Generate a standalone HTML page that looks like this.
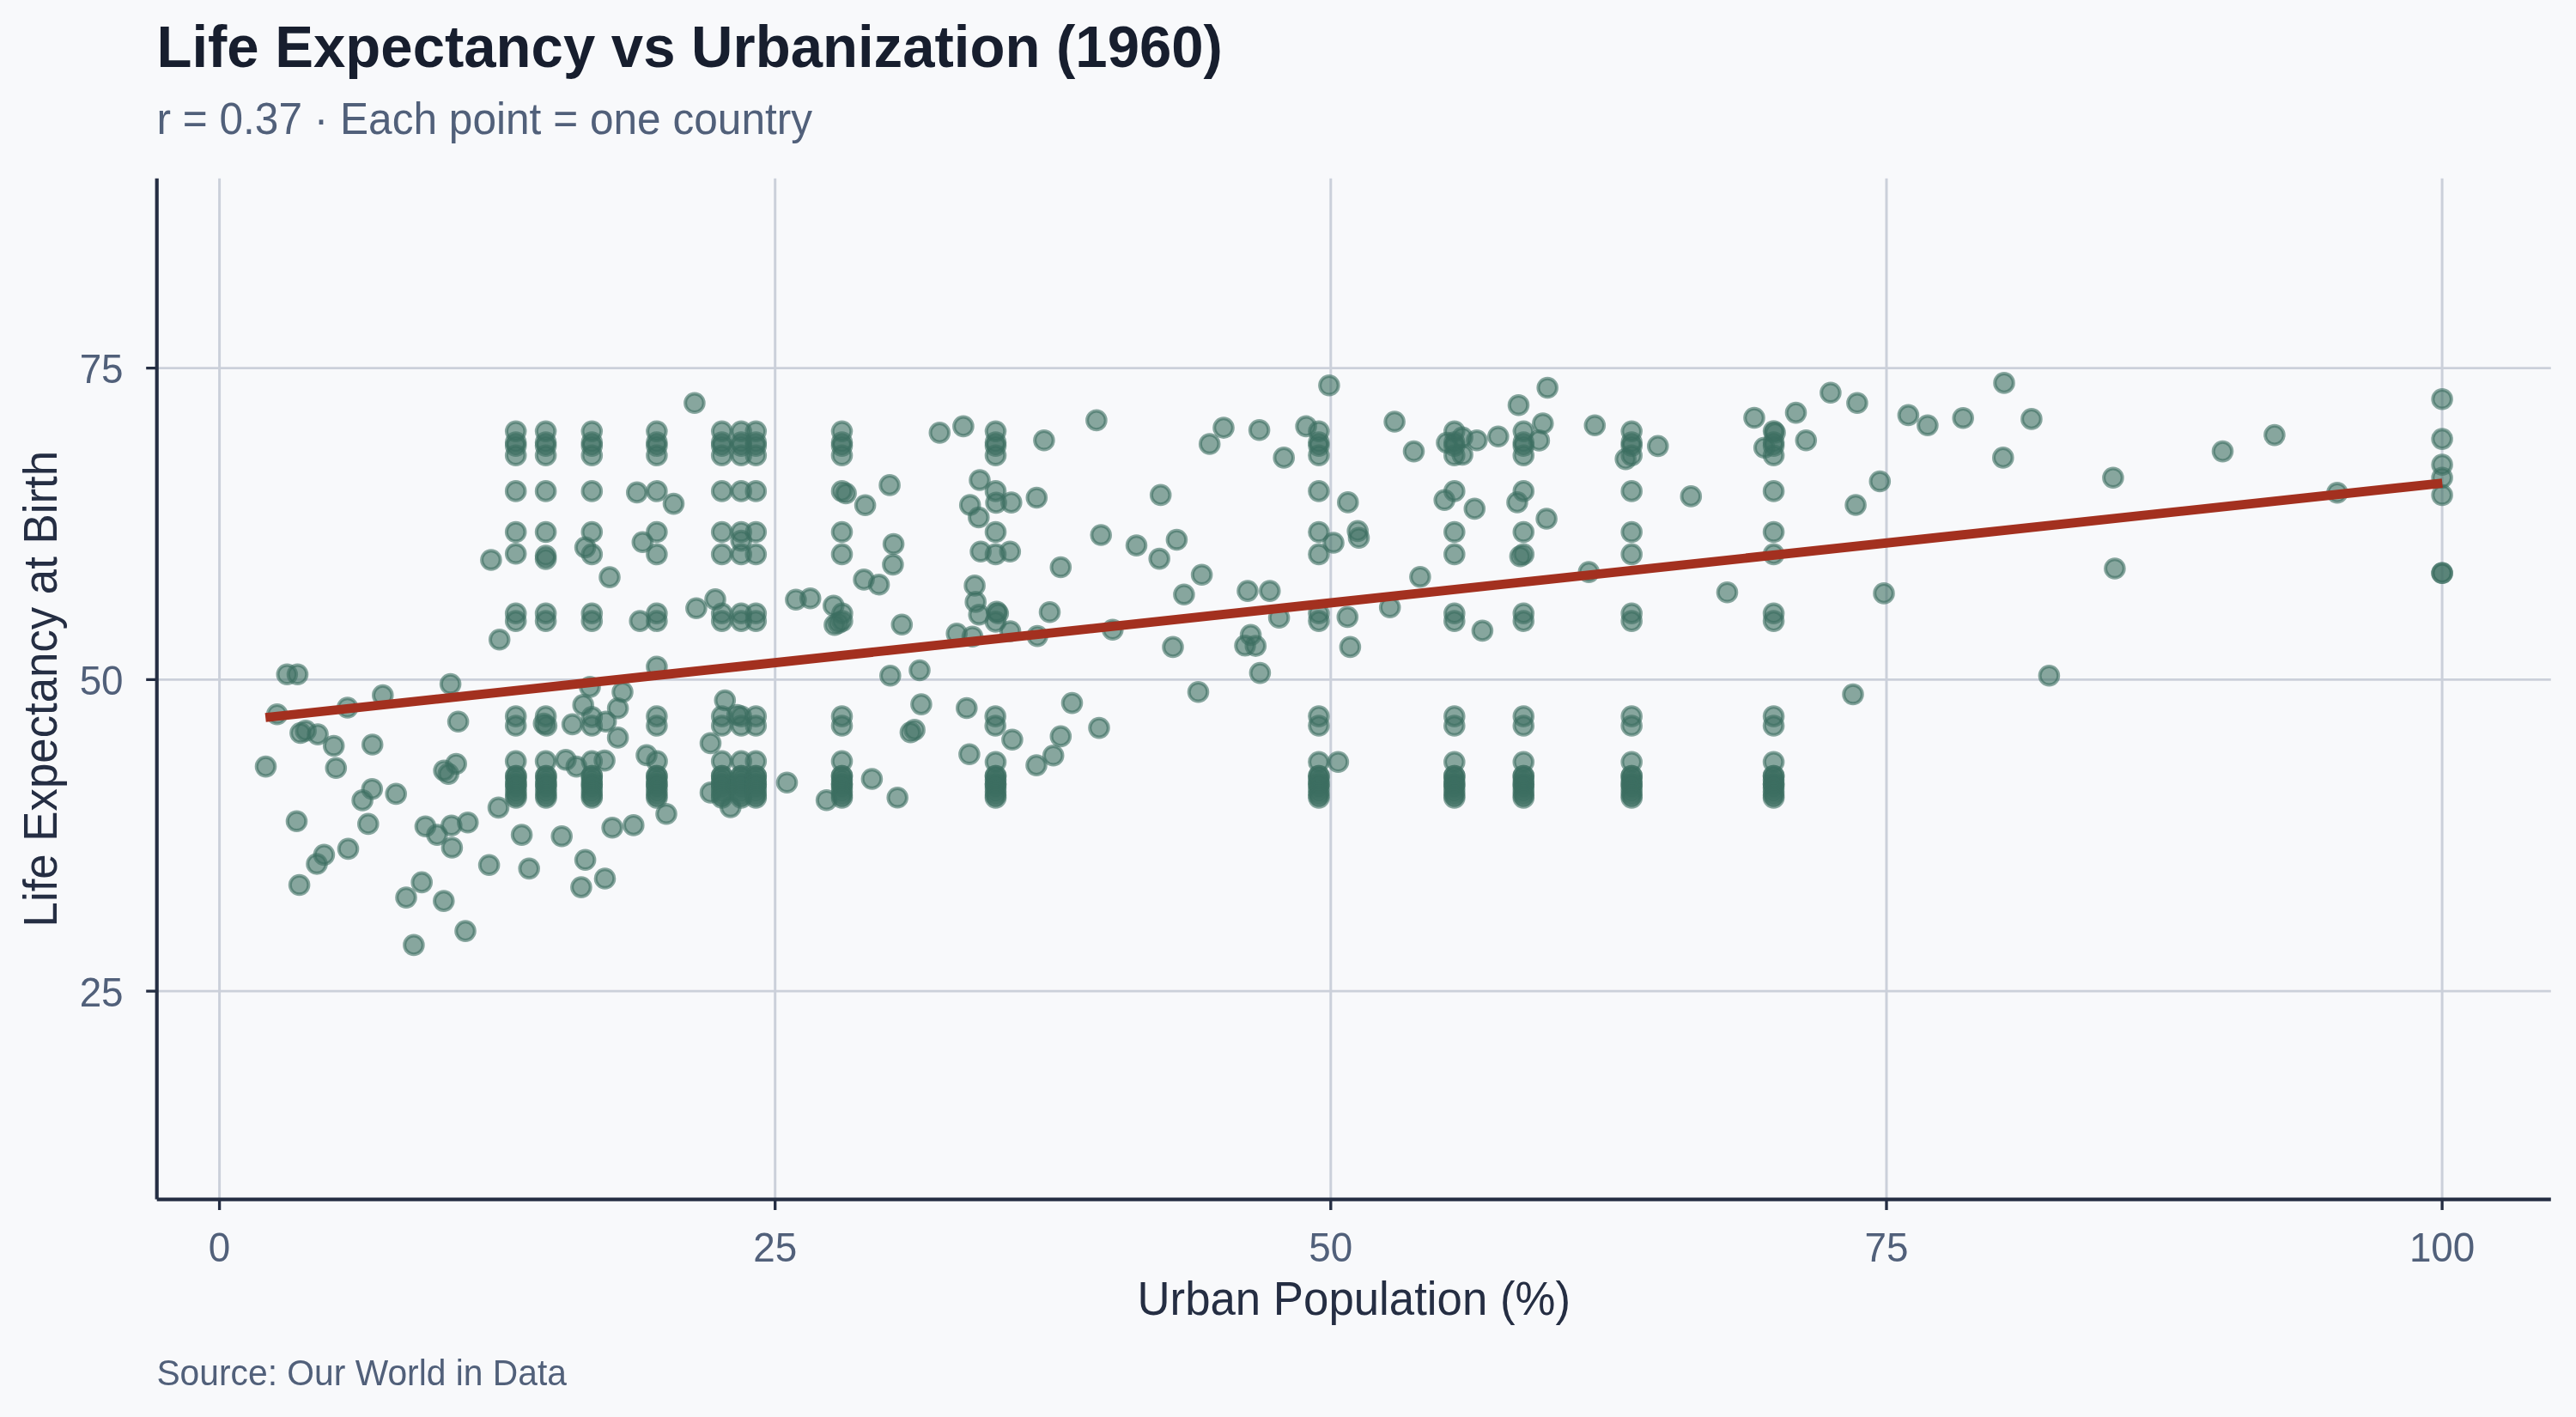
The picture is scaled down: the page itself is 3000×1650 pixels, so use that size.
<!DOCTYPE html>
<html><head><meta charset="utf-8"><title>Life Expectancy vs Urbanization (1960)</title>
<style>html,body{margin:0;padding:0;background:#f8f9fb;}svg{display:block;will-change:transform;}</style>
</head><body>
<svg width="3000" height="1650" viewBox="0 0 3000 1650"><rect width="3000" height="1650" fill="#f8f9fb"/><path d="M255.6 207.8V1396.6M902.7 207.8V1396.6M1549.8 207.8V1396.6M2197.0 207.8V1396.6M2844.1 207.8V1396.6" stroke="#cbd0da" stroke-width="3" fill="none"/><path d="M182.7 1154.1H2970.8M182.7 791.4H2970.8M182.7 428.6H2970.8" stroke="#cbd0da" stroke-width="2.6" fill="none"/><g fill="#3c6e60" fill-opacity="0.6" stroke="#3c6e60" stroke-opacity="0.6" stroke-width="4.0"><circle cx="600.7" cy="502.3" r="10.8"/><circle cx="600.7" cy="515.0" r="10.8"/><circle cx="600.7" cy="519.1" r="10.8"/><circle cx="600.7" cy="530.2" r="10.8"/><circle cx="600.7" cy="571.9" r="10.8"/><circle cx="600.7" cy="619.5" r="10.8"/><circle cx="635.6" cy="502.3" r="10.8"/><circle cx="635.6" cy="515.0" r="10.8"/><circle cx="635.6" cy="519.1" r="10.8"/><circle cx="635.6" cy="530.2" r="10.8"/><circle cx="635.6" cy="571.9" r="10.8"/><circle cx="635.6" cy="619.5" r="10.8"/><circle cx="681.6" cy="637.4" r="10.8"/><circle cx="689.3" cy="502.3" r="10.8"/><circle cx="689.3" cy="515.0" r="10.8"/><circle cx="689.3" cy="519.1" r="10.8"/><circle cx="689.3" cy="530.2" r="10.8"/><circle cx="689.3" cy="571.9" r="10.8"/><circle cx="689.3" cy="619.5" r="10.8"/><circle cx="764.9" cy="502.3" r="10.8"/><circle cx="764.9" cy="515.0" r="10.8"/><circle cx="764.9" cy="519.1" r="10.8"/><circle cx="764.9" cy="530.2" r="10.8"/><circle cx="764.9" cy="571.9" r="10.8"/><circle cx="764.9" cy="619.5" r="10.8"/><circle cx="741.8" cy="573.4" r="10.8"/><circle cx="784.5" cy="586.6" r="10.8"/><circle cx="748.3" cy="631.2" r="10.8"/><circle cx="808.9" cy="469.2" r="10.8"/><circle cx="840.7" cy="502.3" r="10.8"/><circle cx="840.7" cy="515.0" r="10.8"/><circle cx="840.7" cy="519.1" r="10.8"/><circle cx="840.7" cy="530.2" r="10.8"/><circle cx="840.7" cy="571.9" r="10.8"/><circle cx="840.7" cy="619.5" r="10.8"/><circle cx="863.2" cy="502.3" r="10.8"/><circle cx="863.2" cy="515.0" r="10.8"/><circle cx="863.2" cy="519.1" r="10.8"/><circle cx="863.2" cy="530.2" r="10.8"/><circle cx="863.2" cy="571.9" r="10.8"/><circle cx="863.2" cy="619.5" r="10.8"/><circle cx="863.2" cy="629.6" r="10.8"/><circle cx="880.3" cy="502.3" r="10.8"/><circle cx="880.3" cy="515.0" r="10.8"/><circle cx="880.3" cy="519.1" r="10.8"/><circle cx="880.3" cy="530.2" r="10.8"/><circle cx="880.3" cy="571.9" r="10.8"/><circle cx="880.3" cy="619.5" r="10.8"/><circle cx="980.5" cy="502.3" r="10.8"/><circle cx="980.5" cy="515.0" r="10.8"/><circle cx="980.5" cy="519.1" r="10.8"/><circle cx="980.5" cy="530.2" r="10.8"/><circle cx="980.5" cy="571.9" r="10.8"/><circle cx="980.5" cy="619.5" r="10.8"/><circle cx="985.1" cy="574.5" r="10.8"/><circle cx="1007.6" cy="588.2" r="10.8"/><circle cx="1036.1" cy="564.9" r="10.8"/><circle cx="1040.6" cy="633.5" r="10.8"/><circle cx="1094.3" cy="503.9" r="10.8"/><circle cx="1121.9" cy="496.4" r="10.8"/><circle cx="1159.5" cy="502.3" r="10.8"/><circle cx="1159.5" cy="515.0" r="10.8"/><circle cx="1159.5" cy="519.1" r="10.8"/><circle cx="1159.5" cy="530.2" r="10.8"/><circle cx="1215.9" cy="512.7" r="10.8"/><circle cx="1276.9" cy="489.4" r="10.8"/><circle cx="1425.0" cy="498.1" r="10.8"/><circle cx="1408.7" cy="517.0" r="10.8"/><circle cx="1466.6" cy="500.7" r="10.8"/><circle cx="1141.0" cy="559.0" r="10.8"/><circle cx="1159.5" cy="571.9" r="10.8"/><circle cx="1160.1" cy="585.4" r="10.8"/><circle cx="1129.7" cy="588.0" r="10.8"/><circle cx="1139.8" cy="602.5" r="10.8"/><circle cx="1177.8" cy="585.1" r="10.8"/><circle cx="1207.3" cy="579.5" r="10.8"/><circle cx="1351.7" cy="576.4" r="10.8"/><circle cx="1159.5" cy="619.5" r="10.8"/><circle cx="1282.2" cy="623.0" r="10.8"/><circle cx="1323.5" cy="635.1" r="10.8"/><circle cx="1370.4" cy="628.5" r="10.8"/><circle cx="1547.9" cy="448.7" r="10.8"/><circle cx="1521.1" cy="496.4" r="10.8"/><circle cx="1535.9" cy="502.3" r="10.8"/><circle cx="1535.9" cy="515.0" r="10.8"/><circle cx="1535.9" cy="519.1" r="10.8"/><circle cx="1535.9" cy="530.2" r="10.8"/><circle cx="1495.2" cy="532.9" r="10.8"/><circle cx="1624.1" cy="491.0" r="10.8"/><circle cx="1646.5" cy="525.6" r="10.8"/><circle cx="1693.8" cy="502.3" r="10.8"/><circle cx="1703.1" cy="509.3" r="10.8"/><circle cx="1685.0" cy="515.5" r="10.8"/><circle cx="1693.8" cy="515.0" r="10.8"/><circle cx="1693.8" cy="519.1" r="10.8"/><circle cx="1693.8" cy="530.2" r="10.8"/><circle cx="1703.1" cy="529.5" r="10.8"/><circle cx="1719.9" cy="512.7" r="10.8"/><circle cx="1744.8" cy="508.2" r="10.8"/><circle cx="1774.3" cy="502.3" r="10.8"/><circle cx="1774.3" cy="515.0" r="10.8"/><circle cx="1774.3" cy="519.1" r="10.8"/><circle cx="1774.3" cy="530.2" r="10.8"/><circle cx="1796.8" cy="493.0" r="10.8"/><circle cx="1792.4" cy="512.9" r="10.8"/><circle cx="1768.5" cy="471.7" r="10.8"/><circle cx="1802.2" cy="451.5" r="10.8"/><circle cx="1857.3" cy="495.3" r="10.8"/><circle cx="1535.9" cy="571.9" r="10.8"/><circle cx="1569.8" cy="584.9" r="10.8"/><circle cx="1693.8" cy="571.9" r="10.8"/><circle cx="1682.2" cy="582.3" r="10.8"/><circle cx="1717.3" cy="592.4" r="10.8"/><circle cx="1774.3" cy="571.9" r="10.8"/><circle cx="1767.0" cy="584.9" r="10.8"/><circle cx="1801.1" cy="604.0" r="10.8"/><circle cx="1535.9" cy="619.5" r="10.8"/><circle cx="1553.0" cy="632.0" r="10.8"/><circle cx="1581.2" cy="618.4" r="10.8"/><circle cx="1582.5" cy="626.2" r="10.8"/><circle cx="1693.8" cy="619.5" r="10.8"/><circle cx="1774.3" cy="619.5" r="10.8"/><circle cx="1900.2" cy="502.3" r="10.8"/><circle cx="1900.2" cy="515.0" r="10.8"/><circle cx="1900.2" cy="519.1" r="10.8"/><circle cx="1900.2" cy="530.2" r="10.8"/><circle cx="1893.2" cy="534.6" r="10.8"/><circle cx="1930.8" cy="519.4" r="10.8"/><circle cx="2043.0" cy="486.5" r="10.8"/><circle cx="2065.6" cy="502.0" r="10.8"/><circle cx="2067.1" cy="503.9" r="10.8"/><circle cx="2065.6" cy="515.0" r="10.8"/><circle cx="2065.6" cy="519.1" r="10.8"/><circle cx="2065.6" cy="530.2" r="10.8"/><circle cx="2054.7" cy="521.2" r="10.8"/><circle cx="2091.5" cy="480.6" r="10.8"/><circle cx="2131.9" cy="457.3" r="10.8"/><circle cx="2162.9" cy="469.2" r="10.8"/><circle cx="2103.3" cy="512.7" r="10.8"/><circle cx="2222.4" cy="483.4" r="10.8"/><circle cx="2244.9" cy="495.3" r="10.8"/><circle cx="1900.2" cy="571.9" r="10.8"/><circle cx="1969.3" cy="577.9" r="10.8"/><circle cx="2065.6" cy="571.9" r="10.8"/><circle cx="2189.3" cy="560.5" r="10.8"/><circle cx="2161.1" cy="588.0" r="10.8"/><circle cx="1900.2" cy="619.5" r="10.8"/><circle cx="2065.6" cy="619.5" r="10.8"/><circle cx="2286.2" cy="486.8" r="10.8"/><circle cx="2334.0" cy="445.9" r="10.8"/><circle cx="2365.9" cy="487.9" r="10.8"/><circle cx="2332.8" cy="532.9" r="10.8"/><circle cx="2460.9" cy="556.2" r="10.8"/><circle cx="2588.5" cy="525.6" r="10.8"/><circle cx="2648.9" cy="506.6" r="10.8"/><circle cx="2721.9" cy="573.7" r="10.8"/><circle cx="2844.1" cy="464.7" r="10.8"/><circle cx="2844.1" cy="511.1" r="10.8"/><circle cx="2844.1" cy="541.1" r="10.8"/><circle cx="2844.1" cy="556.3" r="10.8"/><circle cx="2844.1" cy="576.5" r="10.8"/><circle cx="571.9" cy="652.0" r="10.8"/><circle cx="600.7" cy="644.7" r="10.8"/><circle cx="635.6" cy="647.0" r="10.8"/><circle cx="635.6" cy="650.9" r="10.8"/><circle cx="600.7" cy="714.2" r="10.8"/><circle cx="600.7" cy="723.1" r="10.8"/><circle cx="635.6" cy="714.2" r="10.8"/><circle cx="635.6" cy="723.1" r="10.8"/><circle cx="581.7" cy="744.8" r="10.8"/><circle cx="334.3" cy="785.2" r="10.8"/><circle cx="346.5" cy="785.2" r="10.8"/><circle cx="524.6" cy="796.5" r="10.8"/><circle cx="445.8" cy="809.6" r="10.8"/><circle cx="404.7" cy="824.0" r="10.8"/><circle cx="322.7" cy="831.8" r="10.8"/><circle cx="533.6" cy="840.3" r="10.8"/><circle cx="600.7" cy="834.1" r="10.8"/><circle cx="600.7" cy="845.0" r="10.8"/><circle cx="635.6" cy="834.1" r="10.8"/><circle cx="633.3" cy="842.6" r="10.8"/><circle cx="636.4" cy="845.0" r="10.8"/><circle cx="666.6" cy="843.4" r="10.8"/><circle cx="349.9" cy="853.5" r="10.8"/><circle cx="356.1" cy="850.9" r="10.8"/><circle cx="370.1" cy="855.1" r="10.8"/><circle cx="689.3" cy="645.4" r="10.8"/><circle cx="764.9" cy="645.4" r="10.8"/><circle cx="840.7" cy="645.4" r="10.8"/><circle cx="863.2" cy="645.4" r="10.8"/><circle cx="880.3" cy="645.4" r="10.8"/><circle cx="980.5" cy="645.4" r="10.8"/><circle cx="1039.9" cy="657.4" r="10.8"/><circle cx="710.0" cy="672.1" r="10.8"/><circle cx="1006.1" cy="674.9" r="10.8"/><circle cx="1023.6" cy="680.7" r="10.8"/><circle cx="689.3" cy="714.2" r="10.8"/><circle cx="689.3" cy="723.1" r="10.8"/><circle cx="745.2" cy="723.1" r="10.8"/><circle cx="764.9" cy="714.2" r="10.8"/><circle cx="764.9" cy="723.1" r="10.8"/><circle cx="810.9" cy="708.3" r="10.8"/><circle cx="833.0" cy="697.9" r="10.8"/><circle cx="840.7" cy="714.2" r="10.8"/><circle cx="840.7" cy="723.1" r="10.8"/><circle cx="863.2" cy="714.2" r="10.8"/><circle cx="863.2" cy="723.1" r="10.8"/><circle cx="880.3" cy="714.2" r="10.8"/><circle cx="880.3" cy="723.1" r="10.8"/><circle cx="926.9" cy="698.2" r="10.8"/><circle cx="943.7" cy="696.7" r="10.8"/><circle cx="970.8" cy="705.2" r="10.8"/><circle cx="980.9" cy="714.2" r="10.8"/><circle cx="980.9" cy="723.1" r="10.8"/><circle cx="971.9" cy="727.7" r="10.8"/><circle cx="976.6" cy="725.4" r="10.8"/><circle cx="1050.3" cy="727.3" r="10.8"/><circle cx="764.9" cy="776.2" r="10.8"/><circle cx="687.0" cy="799.9" r="10.8"/><circle cx="725.0" cy="805.8" r="10.8"/><circle cx="1036.8" cy="786.7" r="10.8"/><circle cx="1071.0" cy="780.5" r="10.8"/><circle cx="1072.9" cy="820.1" r="10.8"/><circle cx="844.3" cy="815.5" r="10.8"/><circle cx="679.2" cy="820.9" r="10.8"/><circle cx="719.6" cy="824.8" r="10.8"/><circle cx="689.3" cy="834.9" r="10.8"/><circle cx="689.3" cy="845.0" r="10.8"/><circle cx="705.6" cy="840.3" r="10.8"/><circle cx="719.6" cy="858.9" r="10.8"/><circle cx="764.9" cy="834.1" r="10.8"/><circle cx="764.9" cy="845.0" r="10.8"/><circle cx="840.7" cy="834.1" r="10.8"/><circle cx="840.7" cy="845.0" r="10.8"/><circle cx="863.2" cy="834.1" r="10.8"/><circle cx="863.2" cy="845.0" r="10.8"/><circle cx="880.3" cy="834.1" r="10.8"/><circle cx="880.3" cy="845.0" r="10.8"/><circle cx="858.6" cy="832.5" r="10.8"/><circle cx="980.5" cy="834.1" r="10.8"/><circle cx="980.5" cy="845.0" r="10.8"/><circle cx="1060.4" cy="852.7" r="10.8"/><circle cx="1065.1" cy="849.9" r="10.8"/><circle cx="1142.1" cy="642.3" r="10.8"/><circle cx="1159.5" cy="645.4" r="10.8"/><circle cx="1176.3" cy="642.3" r="10.8"/><circle cx="1350.2" cy="650.6" r="10.8"/><circle cx="1235.3" cy="660.5" r="10.8"/><circle cx="1135.1" cy="681.9" r="10.8"/><circle cx="1136.2" cy="700.9" r="10.8"/><circle cx="1140.2" cy="715.8" r="10.8"/><circle cx="1160.7" cy="712.2" r="10.8"/><circle cx="1162.3" cy="714.2" r="10.8"/><circle cx="1159.5" cy="723.9" r="10.8"/><circle cx="1222.5" cy="712.7" r="10.8"/><circle cx="1114.2" cy="737.8" r="10.8"/><circle cx="1132.5" cy="741.2" r="10.8"/><circle cx="1176.6" cy="735.0" r="10.8"/><circle cx="1208.1" cy="740.6" r="10.8"/><circle cx="1295.8" cy="733.2" r="10.8"/><circle cx="1378.9" cy="692.3" r="10.8"/><circle cx="1399.6" cy="669.2" r="10.8"/><circle cx="1453.0" cy="688.1" r="10.8"/><circle cx="1366.0" cy="753.4" r="10.8"/><circle cx="1456.6" cy="739.4" r="10.8"/><circle cx="1450.0" cy="751.8" r="10.8"/><circle cx="1462.3" cy="752.1" r="10.8"/><circle cx="1467.4" cy="783.6" r="10.8"/><circle cx="1125.8" cy="824.5" r="10.8"/><circle cx="1159.2" cy="834.1" r="10.8"/><circle cx="1159.2" cy="845.0" r="10.8"/><circle cx="1248.5" cy="818.6" r="10.8"/><circle cx="1395.5" cy="805.7" r="10.8"/><circle cx="1280.0" cy="847.6" r="10.8"/><circle cx="1235.3" cy="857.4" r="10.8"/><circle cx="1178.9" cy="861.3" r="10.8"/><circle cx="1535.9" cy="645.4" r="10.8"/><circle cx="1693.8" cy="645.4" r="10.8"/><circle cx="1770.4" cy="647.8" r="10.8"/><circle cx="1774.3" cy="645.4" r="10.8"/><circle cx="1478.8" cy="688.1" r="10.8"/><circle cx="1489.6" cy="719.2" r="10.8"/><circle cx="1535.9" cy="714.2" r="10.8"/><circle cx="1535.9" cy="723.1" r="10.8"/><circle cx="1569.3" cy="718.4" r="10.8"/><circle cx="1572.4" cy="753.4" r="10.8"/><circle cx="1618.7" cy="707.2" r="10.8"/><circle cx="1653.9" cy="671.8" r="10.8"/><circle cx="1693.8" cy="714.2" r="10.8"/><circle cx="1693.8" cy="723.1" r="10.8"/><circle cx="1726.4" cy="734.4" r="10.8"/><circle cx="1774.3" cy="714.2" r="10.8"/><circle cx="1774.3" cy="723.1" r="10.8"/><circle cx="1850.3" cy="666.1" r="10.8"/><circle cx="1535.9" cy="834.1" r="10.8"/><circle cx="1535.9" cy="845.0" r="10.8"/><circle cx="1693.8" cy="834.1" r="10.8"/><circle cx="1693.8" cy="845.0" r="10.8"/><circle cx="1774.3" cy="834.1" r="10.8"/><circle cx="1774.3" cy="845.0" r="10.8"/><circle cx="1900.2" cy="645.4" r="10.8"/><circle cx="2065.6" cy="645.4" r="10.8"/><circle cx="1900.2" cy="714.2" r="10.8"/><circle cx="1900.2" cy="723.1" r="10.8"/><circle cx="2011.5" cy="689.7" r="10.8"/><circle cx="2065.6" cy="714.2" r="10.8"/><circle cx="2065.6" cy="723.1" r="10.8"/><circle cx="2194.0" cy="690.9" r="10.8"/><circle cx="2158.0" cy="808.5" r="10.8"/><circle cx="1900.2" cy="834.1" r="10.8"/><circle cx="1900.2" cy="845.0" r="10.8"/><circle cx="2065.6" cy="834.1" r="10.8"/><circle cx="2065.6" cy="845.0" r="10.8"/><circle cx="2462.9" cy="662.0" r="10.8"/><circle cx="2386.4" cy="786.7" r="10.8"/><circle cx="2844.1" cy="667.2" r="10.8"/><circle cx="2844.1" cy="667.2" r="10.8"/><circle cx="388.7" cy="868.5" r="10.8"/><circle cx="433.7" cy="867.0" r="10.8"/><circle cx="309.5" cy="892.6" r="10.8"/><circle cx="391.3" cy="894.2" r="10.8"/><circle cx="433.3" cy="918.7" r="10.8"/><circle cx="422.1" cy="931.9" r="10.8"/><circle cx="461.2" cy="924.4" r="10.8"/><circle cx="517.1" cy="897.3" r="10.8"/><circle cx="522.2" cy="901.1" r="10.8"/><circle cx="531.2" cy="889.5" r="10.8"/><circle cx="600.7" cy="886.4" r="10.8"/><circle cx="635.6" cy="886.4" r="10.8"/><circle cx="658.9" cy="884.8" r="10.8"/><circle cx="671.3" cy="892.6" r="10.8"/><circle cx="580.5" cy="940.4" r="10.8"/><circle cx="345.5" cy="956.3" r="10.8"/><circle cx="428.8" cy="959.4" r="10.8"/><circle cx="495.4" cy="962.2" r="10.8"/><circle cx="509.0" cy="972.1" r="10.8"/><circle cx="525.8" cy="961.2" r="10.8"/><circle cx="544.8" cy="957.8" r="10.8"/><circle cx="526.4" cy="987.0" r="10.8"/><circle cx="607.6" cy="972.1" r="10.8"/><circle cx="654.2" cy="973.8" r="10.8"/><circle cx="377.4" cy="995.4" r="10.8"/><circle cx="369.0" cy="1006.0" r="10.8"/><circle cx="405.5" cy="988.4" r="10.8"/><circle cx="569.6" cy="1007.2" r="10.8"/><circle cx="616.2" cy="1011.4" r="10.8"/><circle cx="348.6" cy="1030.5" r="10.8"/><circle cx="491.2" cy="1027.4" r="10.8"/><circle cx="473.0" cy="1045.1" r="10.8"/><circle cx="516.8" cy="1049.1" r="10.8"/><circle cx="542.0" cy="1084.1" r="10.8"/><circle cx="600.9" cy="903.5" r="10.8"/><circle cx="600.9" cy="903.5" r="10.8"/><circle cx="600.9" cy="908.0" r="10.8"/><circle cx="600.9" cy="913.0" r="10.8"/><circle cx="600.9" cy="913.0" r="10.8"/><circle cx="600.9" cy="917.5" r="10.8"/><circle cx="600.9" cy="922.0" r="10.8"/><circle cx="600.9" cy="926.0" r="10.8"/><circle cx="600.9" cy="929.0" r="10.8"/><circle cx="635.9" cy="903.5" r="10.8"/><circle cx="635.9" cy="903.5" r="10.8"/><circle cx="635.9" cy="908.0" r="10.8"/><circle cx="635.9" cy="913.0" r="10.8"/><circle cx="635.9" cy="913.0" r="10.8"/><circle cx="635.9" cy="917.5" r="10.8"/><circle cx="635.9" cy="922.0" r="10.8"/><circle cx="635.9" cy="926.0" r="10.8"/><circle cx="635.9" cy="929.0" r="10.8"/><circle cx="689.3" cy="886.4" r="10.8"/><circle cx="704.1" cy="885.6" r="10.8"/><circle cx="753.0" cy="879.4" r="10.8"/><circle cx="765.1" cy="886.4" r="10.8"/><circle cx="776.0" cy="947.7" r="10.8"/><circle cx="713.1" cy="963.7" r="10.8"/><circle cx="737.8" cy="960.9" r="10.8"/><circle cx="827.5" cy="865.4" r="10.8"/><circle cx="840.7" cy="886.4" r="10.8"/><circle cx="827.5" cy="922.9" r="10.8"/><circle cx="850.8" cy="940.0" r="10.8"/><circle cx="863.2" cy="886.4" r="10.8"/><circle cx="880.3" cy="886.4" r="10.8"/><circle cx="916.5" cy="911.2" r="10.8"/><circle cx="980.5" cy="886.4" r="10.8"/><circle cx="962.6" cy="931.7" r="10.8"/><circle cx="1015.4" cy="907.0" r="10.8"/><circle cx="1045.2" cy="928.8" r="10.8"/><circle cx="681.6" cy="1001.3" r="10.8"/><circle cx="704.5" cy="1023.0" r="10.8"/><circle cx="676.9" cy="1033.1" r="10.8"/><circle cx="689.3" cy="903.5" r="10.8"/><circle cx="689.3" cy="903.5" r="10.8"/><circle cx="689.3" cy="908.0" r="10.8"/><circle cx="689.3" cy="913.0" r="10.8"/><circle cx="689.3" cy="913.0" r="10.8"/><circle cx="689.3" cy="917.5" r="10.8"/><circle cx="689.3" cy="922.0" r="10.8"/><circle cx="689.3" cy="926.0" r="10.8"/><circle cx="689.3" cy="929.0" r="10.8"/><circle cx="764.9" cy="903.5" r="10.8"/><circle cx="764.9" cy="903.5" r="10.8"/><circle cx="764.9" cy="908.0" r="10.8"/><circle cx="764.9" cy="913.0" r="10.8"/><circle cx="764.9" cy="913.0" r="10.8"/><circle cx="764.9" cy="917.5" r="10.8"/><circle cx="764.9" cy="922.0" r="10.8"/><circle cx="764.9" cy="926.0" r="10.8"/><circle cx="764.9" cy="929.0" r="10.8"/><circle cx="840.7" cy="903.5" r="10.8"/><circle cx="840.7" cy="903.5" r="10.8"/><circle cx="840.7" cy="908.0" r="10.8"/><circle cx="840.7" cy="913.0" r="10.8"/><circle cx="840.7" cy="913.0" r="10.8"/><circle cx="840.7" cy="917.5" r="10.8"/><circle cx="840.7" cy="922.0" r="10.8"/><circle cx="840.7" cy="926.0" r="10.8"/><circle cx="840.7" cy="929.0" r="10.8"/><circle cx="863.2" cy="903.5" r="10.8"/><circle cx="863.2" cy="903.5" r="10.8"/><circle cx="863.2" cy="908.0" r="10.8"/><circle cx="863.2" cy="913.0" r="10.8"/><circle cx="863.2" cy="913.0" r="10.8"/><circle cx="863.2" cy="917.5" r="10.8"/><circle cx="863.2" cy="922.0" r="10.8"/><circle cx="863.2" cy="926.0" r="10.8"/><circle cx="863.2" cy="929.0" r="10.8"/><circle cx="880.3" cy="903.5" r="10.8"/><circle cx="880.3" cy="903.5" r="10.8"/><circle cx="880.3" cy="908.0" r="10.8"/><circle cx="880.3" cy="913.0" r="10.8"/><circle cx="880.3" cy="913.0" r="10.8"/><circle cx="880.3" cy="917.5" r="10.8"/><circle cx="880.3" cy="922.0" r="10.8"/><circle cx="880.3" cy="926.0" r="10.8"/><circle cx="880.3" cy="929.0" r="10.8"/><circle cx="980.5" cy="903.5" r="10.8"/><circle cx="980.5" cy="903.5" r="10.8"/><circle cx="980.5" cy="908.0" r="10.8"/><circle cx="980.5" cy="913.0" r="10.8"/><circle cx="980.5" cy="913.0" r="10.8"/><circle cx="980.5" cy="917.5" r="10.8"/><circle cx="980.5" cy="922.0" r="10.8"/><circle cx="980.5" cy="926.0" r="10.8"/><circle cx="980.5" cy="929.0" r="10.8"/><circle cx="1128.9" cy="878.2" r="10.8"/><circle cx="1159.5" cy="887.2" r="10.8"/><circle cx="1207.0" cy="891.1" r="10.8"/><circle cx="1226.7" cy="879.7" r="10.8"/><circle cx="1159.5" cy="903.5" r="10.8"/><circle cx="1159.5" cy="903.5" r="10.8"/><circle cx="1159.5" cy="908.0" r="10.8"/><circle cx="1159.5" cy="913.0" r="10.8"/><circle cx="1159.5" cy="913.0" r="10.8"/><circle cx="1159.5" cy="917.5" r="10.8"/><circle cx="1159.5" cy="922.0" r="10.8"/><circle cx="1159.5" cy="926.0" r="10.8"/><circle cx="1159.5" cy="929.0" r="10.8"/><circle cx="1535.9" cy="887.2" r="10.8"/><circle cx="1558.4" cy="887.2" r="10.8"/><circle cx="1693.8" cy="887.2" r="10.8"/><circle cx="1774.3" cy="887.2" r="10.8"/><circle cx="1535.9" cy="903.5" r="10.8"/><circle cx="1535.9" cy="903.5" r="10.8"/><circle cx="1535.9" cy="908.0" r="10.8"/><circle cx="1535.9" cy="913.0" r="10.8"/><circle cx="1535.9" cy="913.0" r="10.8"/><circle cx="1535.9" cy="917.5" r="10.8"/><circle cx="1535.9" cy="922.0" r="10.8"/><circle cx="1535.9" cy="926.0" r="10.8"/><circle cx="1535.9" cy="929.0" r="10.8"/><circle cx="1693.8" cy="903.5" r="10.8"/><circle cx="1693.8" cy="903.5" r="10.8"/><circle cx="1693.8" cy="908.0" r="10.8"/><circle cx="1693.8" cy="913.0" r="10.8"/><circle cx="1693.8" cy="913.0" r="10.8"/><circle cx="1693.8" cy="917.5" r="10.8"/><circle cx="1693.8" cy="922.0" r="10.8"/><circle cx="1693.8" cy="926.0" r="10.8"/><circle cx="1693.8" cy="929.0" r="10.8"/><circle cx="1774.3" cy="903.5" r="10.8"/><circle cx="1774.3" cy="903.5" r="10.8"/><circle cx="1774.3" cy="908.0" r="10.8"/><circle cx="1774.3" cy="913.0" r="10.8"/><circle cx="1774.3" cy="913.0" r="10.8"/><circle cx="1774.3" cy="917.5" r="10.8"/><circle cx="1774.3" cy="922.0" r="10.8"/><circle cx="1774.3" cy="926.0" r="10.8"/><circle cx="1774.3" cy="929.0" r="10.8"/><circle cx="1900.2" cy="887.2" r="10.8"/><circle cx="2065.6" cy="887.2" r="10.8"/><circle cx="1900.2" cy="903.5" r="10.8"/><circle cx="1900.2" cy="903.5" r="10.8"/><circle cx="1900.2" cy="908.0" r="10.8"/><circle cx="1900.2" cy="913.0" r="10.8"/><circle cx="1900.2" cy="913.0" r="10.8"/><circle cx="1900.2" cy="917.5" r="10.8"/><circle cx="1900.2" cy="922.0" r="10.8"/><circle cx="1900.2" cy="926.0" r="10.8"/><circle cx="1900.2" cy="929.0" r="10.8"/><circle cx="2065.6" cy="903.5" r="10.8"/><circle cx="2065.6" cy="903.5" r="10.8"/><circle cx="2065.6" cy="908.0" r="10.8"/><circle cx="2065.6" cy="913.0" r="10.8"/><circle cx="2065.6" cy="913.0" r="10.8"/><circle cx="2065.6" cy="917.5" r="10.8"/><circle cx="2065.6" cy="922.0" r="10.8"/><circle cx="2065.6" cy="926.0" r="10.8"/><circle cx="2065.6" cy="929.0" r="10.8"/><circle cx="481.9" cy="1100.4" r="10.8"/></g><line x1="309.2" y1="835.5" x2="2844.3" y2="562.6" stroke="#a3301f" stroke-width="10.8"/><path d="M182.7 207.8V1396.6M182.7 1396.6H2970.8" stroke="#252e43" stroke-width="4.17" fill="none" stroke-linecap="butt"/><path d="M255.6 1396.6v12.5M902.7 1396.6v12.5M1549.8 1396.6v12.5M2197.0 1396.6v12.5M2844.1 1396.6v12.5M182.7 1154.1h-12.5M182.7 791.4h-12.5M182.7 428.6h-12.5" stroke="#252e43" stroke-width="3.33" fill="none"/><text transform="translate(255.60 1469.40) scale(1 1.0405)" font-family="'Liberation Sans', Arial, sans-serif"  font-size="45.83" fill="#51607a" text-anchor="middle">0</text><text transform="translate(902.73 1469.40) scale(1 1.0405)" font-family="'Liberation Sans', Arial, sans-serif"  font-size="45.83" fill="#51607a" text-anchor="middle">25</text><text transform="translate(1549.85 1469.40) scale(1 1.0405)" font-family="'Liberation Sans', Arial, sans-serif"  font-size="45.83" fill="#51607a" text-anchor="middle">50</text><text transform="translate(2196.98 1469.40) scale(1 1.0405)" font-family="'Liberation Sans', Arial, sans-serif"  font-size="45.83" fill="#51607a" text-anchor="middle">75</text><text transform="translate(2844.10 1469.40) scale(1 1.0405)" font-family="'Liberation Sans', Arial, sans-serif"  font-size="45.83" fill="#51607a" text-anchor="middle">100</text><text transform="translate(143.60 1171.60) scale(1 1.0405)" font-family="'Liberation Sans', Arial, sans-serif"  font-size="45.83" fill="#51607a" text-anchor="end">25</text><text transform="translate(143.60 808.85) scale(1 1.0405)" font-family="'Liberation Sans', Arial, sans-serif"  font-size="45.83" fill="#51607a" text-anchor="end">50</text><text transform="translate(143.60 446.10) scale(1 1.0405)" font-family="'Liberation Sans', Arial, sans-serif"  font-size="45.83" fill="#51607a" text-anchor="end">75</text><text transform="translate(1576.75 1531.00) scale(1 1.0405)" font-family="'Liberation Sans', Arial, sans-serif"  font-size="52.8" fill="#252e43" text-anchor="middle">Urban Population (%)</text><text transform="translate(66.00 802.20) rotate(-90) scale(1 1.0405)" font-family="'Liberation Sans', Arial, sans-serif"  font-size="52.8" fill="#252e43" text-anchor="middle">Life Expectancy at Birth</text><text transform="translate(182.40 78.00) scale(1 1.033)" font-family="'Liberation Sans', Arial, sans-serif"  font-size="67.1" font-weight="bold" fill="#171e2e">Life Expectancy vs Urbanization (1960)</text><text transform="translate(182.40 156.10) scale(1 1.0405)" font-family="'Liberation Sans', Arial, sans-serif"  font-size="49.6" fill="#51607a">r = 0.37 · Each point = one country</text><text transform="translate(182.40 1612.70) scale(1 1.0405)" font-family="'Liberation Sans', Arial, sans-serif"  font-size="40.8" fill="#51607a">Source: Our World in Data</text></svg>
</body></html>
